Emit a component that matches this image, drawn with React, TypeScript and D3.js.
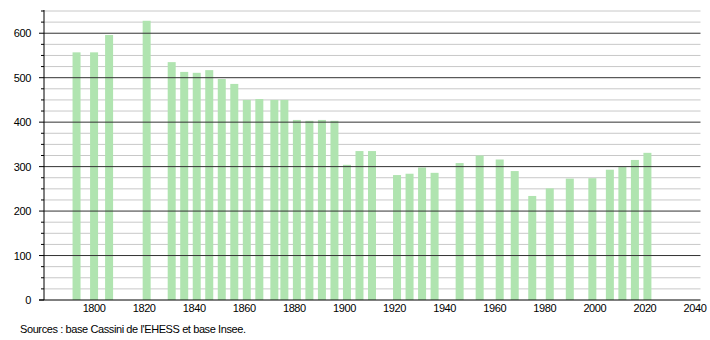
import React from "react";
import * as d3 from "d3";

const years = [1793, 1800, 1806, 1821, 1831, 1836, 1841, 1846, 1851, 1856, 1861, 1866, 1872, 1876, 1881, 1886, 1891, 1896, 1901, 1906, 1911, 1921, 1926, 1931, 1936, 1946, 1954, 1962, 1968, 1975, 1982, 1990, 1999, 2006, 2011, 2016, 2021];
const population = [557, 557, 596, 628, 535, 513, 511, 517, 497, 486, 450, 452, 450, 450, 405, 403, 405, 403, 304, 335, 335, 281, 284, 298, 286, 308, 325, 316, 290, 234, 251, 273, 274, 293, 299, 315, 331];
const xTicks = [1800, 1820, 1840, 1860, 1880, 1900, 1920, 1940, 1960, 1980, 2000, 2020, 2040];
const yMajor = [0, 100, 200, 300, 400, 500, 600];
const sourceText = "Sources : base Cassini de l'EHESS et base Insee.";

export default function App() {
  const W = 710, H = 340;
  const left = 44, right = 700.5, top = 11, bottom = 300;
  const x = d3.scaleLinear().domain([1780, 2042.2]).range([left, right]);
  const y = d3.scaleLinear().domain([0, 650]).range([bottom, top]);
  const minor = d3.range(0, 651, 25).filter((v) => v % 100 !== 0);
  const barW = 8;
  const font = "'Liberation Sans', Arial, sans-serif";
  const ls = -0.4;
  return (
    <svg width={W} height={H} style={{ position: "absolute", left: 0, top: 0 }} fontFamily={font}>
      <rect width={W} height={H} fill="#fff" />
      {minor.map((v) => (
        <line key={"g" + v} x1={left} x2={right} y1={y(v)} y2={y(v)} stroke="#c8c8c8" strokeWidth={1} />
      ))}
      {minor.map((v) => (
        <line key={"mt" + v} x1={left - 3} x2={left} y1={y(v)} y2={y(v)} stroke="#000" strokeWidth={1} />
      ))}
      {years.map((yr, i) => (
        <rect key={yr} x={x(yr) - barW / 2} y={y(population[i])} width={barW} height={bottom - y(population[i])} fill="#b0e4b0" />
      ))}
      {yMajor.map((v) => (
        <g key={"M" + v}>
          {v > 0 && <line x1={left} x2={right} y1={y(v)} y2={y(v)} stroke="#333" strokeWidth={1} />}
          <line x1={left - 5} x2={left} y1={y(v)} y2={y(v)} stroke="#000" strokeWidth={1} />
          <text x={31} y={y(v) + 4} textAnchor="end" fontSize={11} letterSpacing={ls} fill="#000">{v}</text>
        </g>
      ))}
      <line x1={left} x2={left} y1={top - 1} y2={bottom} stroke="#000" strokeWidth={1} />
      <line x1={left - 5} x2={right} y1={bottom} y2={bottom} stroke="#000" strokeWidth={1} />
      {xTicks.map((t) => (
        <text key={"x" + t} x={x(t)} y={312} textAnchor="middle" fontSize={11} letterSpacing={ls} fill="#000">{t}</text>
      ))}
      <text x={20} y={333} fontSize={11} letterSpacing={ls} fill="#000">{sourceText}</text>
    </svg>
  );
}
